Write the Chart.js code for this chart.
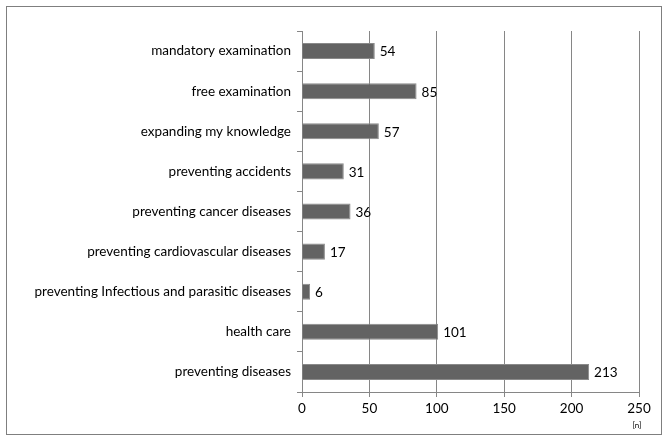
<!DOCTYPE html>
<html><head><meta charset="utf-8">
<script src="https://cdn.jsdelivr.net/npm/chart.js@4/dist/chart.umd.min.js"></script>
<style>
html,body{margin:0;padding:0;background:#fff;}
#wrap{position:absolute;left:0;top:0;width:664px;height:439px;}
</style></head>
<body>
<div id="wrap"><canvas id="c" width="664" height="439"></canvas></div>
<script>
const categories = [
  "mandatory examination",
  "free examination",
  "expanding my knowledge",
  "preventing accidents",
  "preventing cancer diseases",
  "preventing cardiovascular diseases",
  "preventing Infectious and parasitic diseases",
  "health care",
  "preventing diseases"
];
const counts = [54, 85, 57, 31, 36, 17, 6, 101, 213];
const xTicks = [0, 50, 100, 150, 200, 250];
const unitLabel = "[n]";

const FONT = "Lato, 'Open Sans', sans-serif";

const decor = {
  id: 'decor',
  afterDatasetsDraw(chart) {
    const ctx = chart.ctx;
    const meta = chart.getDatasetMeta(0);
    ctx.save();
    ctx.font = "13.5px " + FONT;
    ctx.fillStyle = "#000";
    ctx.textBaseline = "middle";
    ctx.textAlign = "left";
    meta.data.forEach((bar, i) => {
      ctx.fillText(String(counts[i]), bar.x + 5, bar.y + 1);
    });
    const xs = chart.scales.x;
    ctx.font = "8px " + FONT;
    ctx.textAlign = "center";
    ctx.fillText(unitLabel, xs.getPixelForValue(250) - 2, 425);
    ctx.strokeStyle = "#7f7f7f";
    ctx.lineWidth = 1;
    ctx.strokeRect(6.5, 6.5, 655, 428);
    ctx.restore();
  }
};

new Chart(document.getElementById('c'), {
  type: 'bar',
  data: {
    labels: categories,
    datasets: [{
      data: counts,
      backgroundColor: '#636363',
      borderColor: '#8a8a8a',
      borderWidth: 1,
      barPercentage: 0.4,
      categoryPercentage: 1.0
    }]
  },
  options: {
    indexAxis: 'y',
    responsive: false,
    animation: false,
    layout: { padding: { left: 0, right: 25, top: 31, bottom: 14 } },
    plugins: { legend: { display: false }, tooltip: { enabled: false } },
    scales: {
      x: {
        min: 0, max: 250,
        afterBuildTicks(s) { s.ticks = xTicks.map(v => ({ value: v })); },
        grid: { color: '#868686', lineWidth: 1, tickLength: 5, drawTicks: true },
        border: { color: '#868686' },
        ticks: { color: '#000', font: { family: FONT, size: 13.5 }, padding: 4 },
        afterFit(s) { s.height = 33; }
      },
      y: {
        grid: { display: true, offset: true, drawOnChartArea: false, color: '#868686', tickLength: 5 },
        border: { color: '#868686' },
        ticks: { color: '#000', font: { family: FONT, size: 13.5 }, padding: 6 },
        afterFit(s) { s.width = 302; }
      }
    }
  },
  plugins: [decor]
});
</script>
</body></html>
